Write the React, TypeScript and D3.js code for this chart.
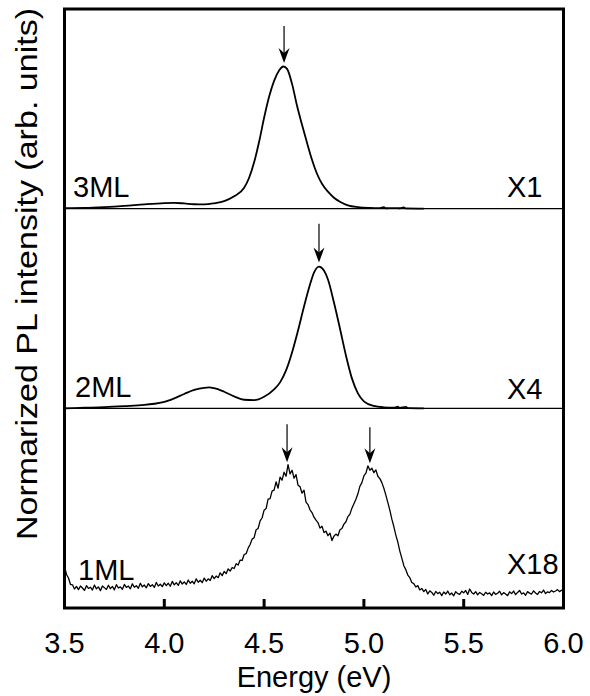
import { useEffect, useRef } from 'react';
import * as d3 from 'd3';

const energyTicks = [3.5, 4.0, 4.5, 5.0, 5.5, 6.0];
const panelLabels = ['1ML', '2ML', '3ML'];
const factorLabels = ['X18', 'X4', 'X1'];
const panelOffsets = [0, 1, 2];

// [energy (eV), intensity above panel baseline]
const ml3: [number, number][] = [
  [3.5, 0.003], [3.6, 0.004], [3.7, 0.008], [3.8, 0.014], [3.9, 0.022], [4.0, 0.028],
  [4.05, 0.029], [4.1, 0.026], [4.15, 0.022], [4.2, 0.021], [4.25, 0.027], [4.3, 0.038],
  [4.35, 0.062], [4.4, 0.105], [4.425, 0.155], [4.45, 0.232], [4.475, 0.335], [4.5, 0.455],
  [4.525, 0.56], [4.55, 0.64], [4.575, 0.692], [4.597, 0.712], [4.615, 0.7], [4.64, 0.625],
  [4.665, 0.515], [4.69, 0.42], [4.715, 0.33], [4.74, 0.245], [4.765, 0.175], [4.79, 0.125],
  [4.82, 0.085], [4.85, 0.055], [4.88, 0.035], [4.92, 0.017], [4.97, 0.008], [5.03, 0.004],
  [5.08, 0.003], [5.1, 0.007], [5.11, 0.002], [5.15, 0.003], [5.18, 0.002], [5.2, 0.006],
  [5.21, 0.001], [5.3, 0.0],
];

const ml2: [number, number][] = [
  [3.5, 0.0], [3.6, 0.003], [3.7, 0.006], [3.8, 0.011], [3.9, 0.017], [3.95, 0.023],
  [4.0, 0.032], [4.05, 0.05], [4.1, 0.072], [4.15, 0.092], [4.2, 0.103], [4.225, 0.105],
  [4.25, 0.101], [4.3, 0.083], [4.35, 0.06], [4.4, 0.043], [4.45, 0.041], [4.5, 0.058],
  [4.55, 0.095], [4.58, 0.13], [4.61, 0.19], [4.64, 0.28], [4.67, 0.39], [4.7, 0.51],
  [4.73, 0.62], [4.75, 0.68], [4.775, 0.71], [4.8, 0.69], [4.82, 0.645], [4.85, 0.53],
  [4.88, 0.4], [4.91, 0.265], [4.94, 0.15], [4.97, 0.075], [5.0, 0.035], [5.05, 0.012],
  [5.1, 0.005], [5.15, 0.003], [5.17, 0.008], [5.18, 0.002], [5.21, 0.007], [5.22, 0.001],
  [5.3, 0.0],
];

const ml1: [number, number][] = [
  [3.5, 0.21], [3.51, 0.168], [3.52, 0.15], [3.53, 0.118], [3.54, 0.116], [3.55, 0.095],
  [3.56, 0.108], [3.57, 0.092], [3.58, 0.11], [3.59, 0.1], [3.6, 0.088], [3.61, 0.112],
  [3.62, 0.098], [3.63, 0.104], [3.64, 0.09], [3.65, 0.115], [3.66, 0.096], [3.67, 0.106],
  [3.68, 0.087], [3.69, 0.11], [3.7, 0.102], [3.71, 0.093], [3.72, 0.114], [3.73, 0.097],
  [3.74, 0.108], [3.75, 0.091], [3.76, 0.117], [3.77, 0.1], [3.78, 0.106], [3.79, 0.094],
  [3.8, 0.118], [3.81, 0.103], [3.82, 0.11], [3.83, 0.096], [3.84, 0.121], [3.85, 0.104],
  [3.86, 0.112], [3.87, 0.099], [3.88, 0.124], [3.89, 0.106], [3.9, 0.115], [3.91, 0.101],
  [3.92, 0.122], [3.93, 0.108], [3.94, 0.117], [3.95, 0.103], [3.96, 0.128], [3.97, 0.11],
  [3.98, 0.119], [3.99, 0.107], [4.0, 0.126], [4.01, 0.112], [4.02, 0.124], [4.03, 0.109],
  [4.04, 0.133], [4.05, 0.116], [4.06, 0.127], [4.07, 0.113], [4.08, 0.136], [4.09, 0.12],
  [4.1, 0.131], [4.11, 0.118], [4.12, 0.14], [4.13, 0.124], [4.14, 0.134], [4.15, 0.121],
  [4.16, 0.146], [4.17, 0.129], [4.18, 0.139], [4.19, 0.127], [4.2, 0.15], [4.21, 0.134],
  [4.22, 0.146], [4.23, 0.138], [4.24, 0.162], [4.25, 0.147], [4.26, 0.16], [4.27, 0.152],
  [4.28, 0.176], [4.29, 0.162], [4.3, 0.183], [4.31, 0.172], [4.32, 0.196], [4.33, 0.185],
  [4.34, 0.203], [4.35, 0.198], [4.36, 0.222], [4.37, 0.215], [4.38, 0.24], [4.39, 0.238],
  [4.4, 0.268], [4.41, 0.272], [4.42, 0.3], [4.43, 0.318], [4.44, 0.345], [4.45, 0.352],
  [4.46, 0.392], [4.47, 0.398], [4.48, 0.436], [4.49, 0.452], [4.5, 0.49], [4.51, 0.498],
  [4.52, 0.545], [4.53, 0.548], [4.54, 0.585], [4.55, 0.59], [4.56, 0.632], [4.57, 0.6],
  [4.58, 0.655], [4.59, 0.64], [4.6, 0.68], [4.61, 0.66], [4.62, 0.718], [4.63, 0.672],
  [4.64, 0.69], [4.65, 0.65], [4.66, 0.668], [4.67, 0.615], [4.68, 0.608], [4.69, 0.575],
  [4.7, 0.59], [4.71, 0.53], [4.72, 0.518], [4.73, 0.492], [4.74, 0.478], [4.75, 0.455],
  [4.76, 0.44], [4.77, 0.428], [4.78, 0.4], [4.79, 0.41], [4.8, 0.378], [4.81, 0.385],
  [4.82, 0.362], [4.83, 0.375], [4.84, 0.338], [4.85, 0.36], [4.86, 0.37], [4.87, 0.362],
  [4.88, 0.392], [4.89, 0.398], [4.9, 0.42], [4.91, 0.432], [4.92, 0.458], [4.93, 0.47],
  [4.94, 0.5], [4.95, 0.522], [4.96, 0.545], [4.97, 0.572], [4.98, 0.61], [4.99, 0.628],
  [5.0, 0.662], [5.01, 0.675], [5.02, 0.712], [5.03, 0.69], [5.04, 0.7], [5.05, 0.678],
  [5.06, 0.692], [5.07, 0.66], [5.08, 0.648], [5.09, 0.628], [5.1, 0.6], [5.11, 0.565],
  [5.12, 0.528], [5.13, 0.49], [5.14, 0.445], [5.15, 0.408], [5.16, 0.365], [5.17, 0.33],
  [5.18, 0.285], [5.19, 0.25], [5.2, 0.212], [5.21, 0.192], [5.22, 0.165], [5.23, 0.152],
  [5.24, 0.128], [5.25, 0.122], [5.26, 0.105], [5.27, 0.112], [5.28, 0.09], [5.29, 0.098],
  [5.3, 0.082], [5.31, 0.093], [5.32, 0.07], [5.33, 0.086], [5.34, 0.078], [5.35, 0.064],
  [5.36, 0.083], [5.37, 0.072], [5.38, 0.079], [5.39, 0.062], [5.4, 0.08], [5.41, 0.07],
  [5.42, 0.085], [5.43, 0.066], [5.44, 0.075], [5.45, 0.061], [5.46, 0.082], [5.47, 0.072],
  [5.48, 0.068], [5.49, 0.084], [5.5, 0.076], [5.51, 0.088], [5.52, 0.068], [5.53, 0.095],
  [5.54, 0.078], [5.55, 0.07], [5.56, 0.082], [5.57, 0.066], [5.58, 0.078], [5.59, 0.071],
  [5.6, 0.063], [5.61, 0.079], [5.62, 0.07], [5.63, 0.076], [5.64, 0.062], [5.65, 0.08],
  [5.66, 0.068], [5.67, 0.074], [5.68, 0.084], [5.69, 0.066], [5.7, 0.077], [5.71, 0.07],
  [5.72, 0.062], [5.73, 0.081], [5.74, 0.072], [5.75, 0.085], [5.76, 0.067], [5.77, 0.078],
  [5.78, 0.088], [5.79, 0.07], [5.8, 0.076], [5.81, 0.064], [5.82, 0.082], [5.83, 0.074],
  [5.84, 0.07], [5.85, 0.086], [5.86, 0.075], [5.87, 0.068], [5.88, 0.083], [5.89, 0.076],
  [5.9, 0.09], [5.91, 0.072], [5.92, 0.081], [5.93, 0.077], [5.94, 0.088], [5.95, 0.08],
  [5.96, 0.085], [5.97, 0.092], [5.98, 0.082], [5.99, 0.089], [6.0, 0.086],
];

// peak markers: energy, arrow tip and tail (absolute y units)
const arrowEnergy = [4.6, 4.775, 4.615, 5.03];
const arrowTip = [2.73, 1.73, 0.73, 0.725];
const arrowTail = [2.915, 1.925, 0.92, 0.905];

export default function App() {
  const svgRef = useRef<SVGSVGElement>(null);

  useEffect(() => {
    const W = 590;
    const H = 696;
    const margin = { top: 9, right: 26.5, bottom: 88, left: 64.5 };
    const width = W - margin.left - margin.right;
    const height = H - margin.top - margin.bottom;
    const font = '"Liberation Sans", Arial, Helvetica, sans-serif';
    const fs = 29;

    const svg = d3.select(svgRef.current);
    svg.selectAll('*').remove();
    svg.attr('width', W).attr('height', H);
    const g = svg.append('g').attr('transform', `translate(${margin.left},${margin.top})`);

    const x = d3.scaleLinear().domain([3.5, 6]).range([0, width]);
    const y = d3.scaleLinear().domain([0, 3]).range([height, 0]);

    // panel baselines
    [1, 2].forEach(v => {
      g.append('line')
        .attr('x1', 0).attr('x2', width).attr('y1', y(v)).attr('y2', y(v))
        .attr('stroke', '#000').attr('stroke-width', 1.4);
    });

    const spectra = [
      { data: ml1, offset: panelOffsets[0], curve: d3.curveLinear, w: 1.3 },
      { data: ml2, offset: panelOffsets[1], curve: d3.curveMonotoneX, w: 1.8 },
      { data: ml3, offset: panelOffsets[2], curve: d3.curveMonotoneX, w: 1.8 },
    ];
    spectra.forEach(s => {
      const line = d3.line<[number, number]>()
        .x(d => x(d[0]))
        .y(d => y(d[1] + s.offset))
        .curve(s.curve);
      g.append('path').datum(s.data)
        .attr('fill', 'none').attr('stroke', '#000')
        .attr('stroke-width', s.w).attr('stroke-linejoin', 'round')
        .attr('d', line);
    });

    // arrows
    arrowEnergy.forEach((e, i) => {
      const ax = x(e);
      const tip = y(arrowTip[i]);
      g.append('line')
        .attr('x1', ax).attr('x2', ax).attr('y1', y(arrowTail[i])).attr('y2', tip - 8)
        .attr('stroke', '#000').attr('stroke-width', 1.2);
      g.append('path')
        .attr('transform', `translate(${ax},${tip})`)
        .attr('d', 'M0,0 L-5.5,-15 L0,-10 L5.5,-15 Z')
        .attr('fill', '#000');
    });

    // frame
    g.append('rect')
      .attr('x', 0).attr('y', 0).attr('width', width).attr('height', height)
      .attr('fill', 'none').attr('stroke', '#000').attr('stroke-width', 3);

    // x ticks (inward) and labels
    energyTicks.forEach(t => {
      g.append('line')
        .attr('x1', x(t)).attr('x2', x(t)).attr('y1', height).attr('y2', height - 9)
        .attr('stroke', '#000').attr('stroke-width', 3);
      g.append('text')
        .attr('x', x(t)).attr('y', height + 45)
        .attr('text-anchor', 'middle')
        .attr('font-family', font).attr('font-size', fs)
        .text(t.toFixed(1));
    });

    g.append('text')
      .attr('x', width / 2).attr('y', height + 79)
      .attr('text-anchor', 'middle')
      .attr('font-family', font).attr('font-size', fs)
      .text('Energy (eV)');

    svg.append('text')
      .attr('transform', 'translate(37,274) rotate(-90)')
      .attr('text-anchor', 'middle')
      .attr('font-family', font).attr('font-size', fs)
      .attr('textLength', 532).attr('lengthAdjust', 'spacingAndGlyphs')
      .text('Normarized PL intensity (arb. units)');

    // panel and scale-factor labels
    const labelDx = [13.5, 10.5, 8.5];
    const labelDy = [28, 11.3, 11.7];
    const factorDy = [34, 9.3, 11.7];
    panelLabels.forEach((lab, i) => {
      g.append('text')
        .attr('x', labelDx[i]).attr('y', y(panelOffsets[i]) - labelDy[i])
        .attr('font-family', font).attr('font-size', fs)
        .text(lab);
      g.append('text')
        .attr('x', width - 56.5).attr('y', y(panelOffsets[i]) - factorDy[i])
        .attr('font-family', font).attr('font-size', fs)
        .text(factorLabels[i]);
    });
  }, []);

  return (
    <div style={{ position: 'absolute', left: 0, top: 0, background: '#fff' }}>
      <svg ref={svgRef} style={{ display: 'block' }} />
    </div>
  );
}
